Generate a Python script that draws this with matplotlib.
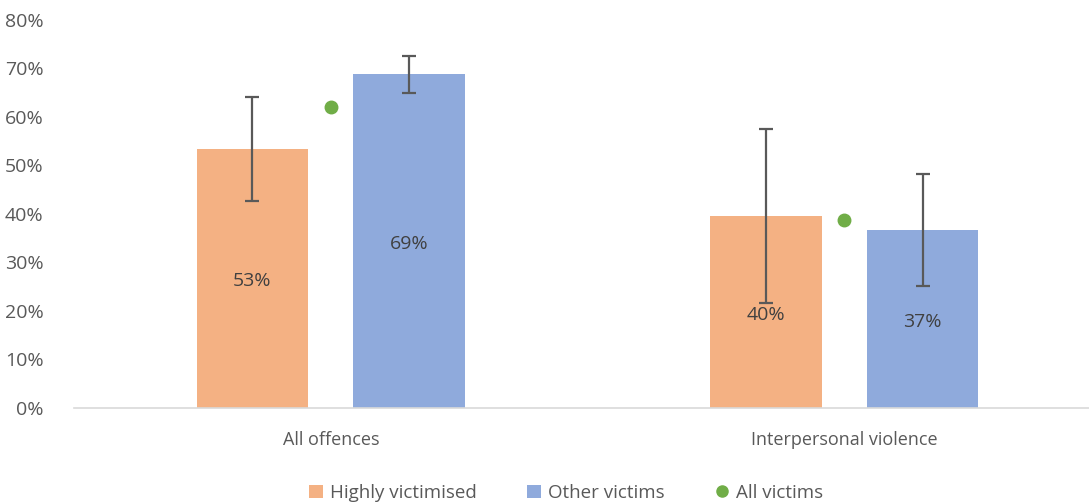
import matplotlib

matplotlib.use("Agg")

import matplotlib.pyplot as plt
from matplotlib.lines import Line2D
from matplotlib.patches import Patch
from matplotlib.ticker import PercentFormatter
import numpy as np

categories = ["All offences", "Interpersonal violence"]
highly_victimised = [53.4, 39.6]
highly_err_low = [42.7, 21.7]
highly_err_high = [64.2, 57.6]
other_victims = [68.9, 36.7]
other_err_low = [65.0, 25.2]
other_err_high = [72.6, 48.2]
all_victims = [62.0, 38.7]
y_ticks = [0, 10, 20, 30, 40, 50, 60, 70, 80]

ORANGE = "#F4B183"
BLUE = "#8FAADC"
GREEN = "#70AD47"
TEXT = "#595959"

plt.rcParams["font.family"] = ["Open Sans", "DejaVu Sans"]

fig = plt.figure(figsize=(10.89, 5.03), dpi=100)
# axes runs slightly past the right edge, as in the original
ax = fig.add_axes([74 / 1089, (503 - 407.7) / 503, 1027 / 1089, (407.7 - 20) / 503])

x = np.arange(len(categories))
width = 0.217
offset = 0.1525

hv = np.array(highly_victimised)
ov = np.array(other_victims)
hv_err = [hv - np.array(highly_err_low), np.array(highly_err_high) - hv]
ov_err = [ov - np.array(other_err_low), np.array(other_err_high) - ov]

err_kw = dict(ecolor="#595959", elinewidth=1.6, capsize=5, capthick=1.6)
ax.bar(x - offset, hv, width, color=ORANGE, yerr=hv_err, error_kw=err_kw, zorder=2)
ax.bar(x + offset, ov, width, color=BLUE, yerr=ov_err, error_kw=err_kw, zorder=2)
ax.plot(x, all_victims, linestyle="none", marker="o", markersize=9, color=GREEN, zorder=3)

# value labels in the middle of each bar
for xi, v in zip(np.concatenate([x - offset, x + offset]), np.concatenate([hv, ov])):
    ax.text(xi, v / 2 - 0.6, f"{v:.0f}%", ha="center", va="center",
            fontsize=14, color="#404040", zorder=4)

ax.set_xlim(-0.5, 1.5)
ax.set_ylim(0, 80)
ax.set_yticks(y_ticks)
ax.yaxis.set_major_formatter(PercentFormatter(xmax=100, decimals=0))
ax.set_xticks(x)
ax.set_xticklabels(categories)
ax.tick_params(axis="both", length=0, labelcolor=TEXT)
ax.tick_params(axis="y", pad=22, labelsize=14)
ax.tick_params(axis="x", pad=17, labelsize=13)

for side in ("top", "right", "left"):
    ax.spines[side].set_visible(False)
ax.spines["bottom"].set_color("#D9D9D9")
ax.spines["bottom"].set_linewidth(1.2)

handles = [
    Patch(facecolor=ORANGE, edgecolor="none"),
    Patch(facecolor=BLUE, edgecolor="none"),
    Line2D([0], [0], linestyle="none", marker="o", markersize=8, color=GREEN),
]
fig.legend(
    handles,
    ["Highly victimised", "Other victims", "All victims"],
    loc="center",
    bbox_to_anchor=(566 / 1089, 1 - 493 / 503),
    ncol=3,
    frameon=False,
    fontsize=13.5,
    labelcolor=TEXT,
    handlelength=0.75,
    handleheight=0.75,
    handletextpad=0.35,
    columnspacing=2.7,
)

fig.savefig("out.png", dpi=100)
